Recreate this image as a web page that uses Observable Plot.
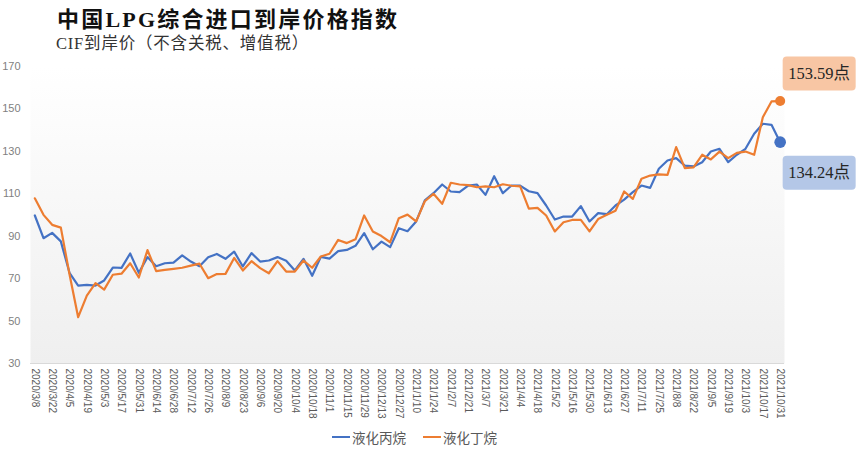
<!DOCTYPE html>
<html>
<head>
<meta charset="utf-8">
<script src="https://cdn.jsdelivr.net/npm/d3@7"></script>
<script src="https://cdn.jsdelivr.net/npm/@observablehq/plot@0.6"></script>
<style>
  html, body { margin: 0; padding: 0; background: #ffffff; }
  #wrap { width: 861px; height: 454px; position: relative; overflow: hidden; }
  #header { position: relative; width: 861px; height: 56px; }
  #title { position: absolute; left: 57px; top: 8px; line-height: 24px; font-size: 22px; font-weight: bold; letter-spacing: 2.2px;
           font-family: "Liberation Serif", "Noto Sans CJK SC", serif; color: #111; white-space: nowrap; }
  #subtitle { position: absolute; left: 56px; top: 34px; line-height: 20px; font-size: 16.5px; letter-spacing: 0.8px;
           font-family: "Liberation Serif", "Noto Sans CJK SC", serif; color: #333; white-space: nowrap; }
  #legend { position: relative; height: 34px; font-family: "Noto Sans CJK SC", sans-serif; font-size: 13.5px; color: #595959; }
  .lg { position: absolute; top: 0; height: 34px; line-height: 34px; display: flex; align-items: center; white-space: nowrap; }
  .sw { display: inline-block; width: 18px; height: 2px; margin-right: 2px; }
</style>
</head>
<body>
<div id="wrap">
  <div id="header">
    <div id="title">中国LPG综合进口到岸价格指数</div>
    <div id="subtitle">CIF到岸价（不含关税、增值税）</div>
  </div>
  <div id="chart"></div>
  <div id="legend"></div>
</div>
<script>
// ---- data ----
const dates = [
  "2020/3/8","2020/3/15","2020/3/22","2020/3/29","2020/4/5","2020/4/12","2020/4/19","2020/4/26",
  "2020/5/3","2020/5/10","2020/5/17","2020/5/24","2020/5/31","2020/6/7","2020/6/14","2020/6/21",
  "2020/6/28","2020/7/5","2020/7/12","2020/7/19","2020/7/26","2020/8/2","2020/8/9","2020/8/16",
  "2020/8/23","2020/8/30","2020/9/6","2020/9/13","2020/9/20","2020/9/27","2020/10/4","2020/10/11",
  "2020/10/18","2020/10/25","2020/11/1","2020/11/8","2020/11/15","2020/11/22","2020/11/29","2020/12/6",
  "2020/12/13","2020/12/20","2020/12/27","2021/1/3","2021/1/10","2021/1/17","2021/1/24","2021/1/31",
  "2021/2/7","2021/2/14","2021/2/21","2021/2/28","2021/3/7","2021/3/14","2021/3/21","2021/3/28",
  "2021/4/4","2021/4/11","2021/4/18","2021/4/25","2021/5/2","2021/5/9","2021/5/16","2021/5/23",
  "2021/5/30","2021/6/6","2021/6/13","2021/6/20","2021/6/27","2021/7/4","2021/7/11","2021/7/18",
  "2021/7/25","2021/8/1","2021/8/8","2021/8/15","2021/8/22","2021/8/29","2021/9/5","2021/9/12",
  "2021/9/19","2021/9/26","2021/10/3","2021/10/10","2021/10/17","2021/10/24","2021/10/31"
];
// 液化丙烷 (propane)
const propane = [
  99.7, 89.0, 91.5, 87.5, 72.7, 66.7, 67.0, 66.7, 69.1, 75.2,
  75.0, 81.8, 72.7, 80.1, 75.8, 77.2, 77.5, 80.9, 78.0, 75.8,
  80.0, 81.6, 79.3, 82.7, 75.7, 82.0, 78.0, 78.5, 80.1, 78.4,
  73.8, 79.3, 71.3, 80.2, 79.4, 82.9, 83.5, 85.4, 91.4, 83.8,
  87.4, 84.8, 93.7, 92.3, 96.9, 106.8, 110.2, 114.3, 111.0, 110.7,
  113.8, 114.3, 109.4, 118.2, 110.2, 113.8, 113.8, 111.1, 110.2, 104.4,
  97.8, 99.2, 99.2, 104.1, 96.9, 100.8, 100.3, 104.4, 107.2, 110.7,
  113.8, 112.7, 121.7, 125.6, 126.7, 123.2, 122.8, 124.8, 129.8, 131.1,
  124.8, 128.3, 131.1, 138.2, 142.9, 142.4, 134.24
];
// 液化丁烷 (butane)
const butane = [
  107.8, 100.0, 95.3, 94.0, 72.0, 51.8, 62.0, 67.8, 64.8, 71.8,
  72.3, 77.2, 70.5, 83.4, 73.5, 74.1, 74.6, 75.1, 76.1, 77.0,
  70.2, 72.1, 72.2, 79.7, 73.8, 78.2, 74.9, 72.5, 78.2, 73.3,
  73.3, 78.5, 75.1, 80.4, 81.7, 88.2, 86.7, 88.5, 99.7, 92.2,
  90.0, 87.1, 98.4, 100.1, 96.9, 106.4, 109.9, 105.2, 115.1, 114.3,
  114.0, 113.0, 113.4, 113.0, 114.4, 113.7, 113.4, 102.9, 103.3, 99.7,
  92.2, 96.5, 97.6, 97.6, 92.2, 98.0, 100.0, 101.9, 111.0, 107.5,
  117.0, 118.5, 119.1, 118.8, 131.9, 122.0, 122.4, 128.3, 126.1, 129.8,
  126.7, 129.2, 129.8, 128.3, 146.0, 153.4, 153.59
];
const tickLabels = [
  "2020/3/8","2020/3/22","2020/4/5","2020/4/19","2020/5/3","2020/5/17","2020/5/31","2020/6/14",
  "2020/6/28","2020/7/12","2020/7/26","2020/8/9","2020/8/23","2020/9/6","2020/9/20","2020/10/4",
  "2020/10/18","2020/11/1","2020/11/15","2020/11/29","2020/12/13","2020/12/27","2021/1/10","2021/1/24",
  "2021/2/7","2021/2/21","2021/3/7","2021/3/21","2021/4/4","2021/4/18","2021/5/2","2021/5/16",
  "2021/5/30","2021/6/13","2021/6/27","2021/7/11","2021/7/25","2021/8/8","2021/8/22","2021/9/5",
  "2021/9/19","2021/10/3","2021/10/17","2021/10/31"
];
const yTicks = [30, 50, 70, 90, 110, 130, 150, 170];
const seriesNames = ["液化丙烷", "液化丁烷"];
const seriesColors = ["#4472c4", "#ed7d31"];
const boxColors = ["#b4c7e7", "#f8c6a4"];

// ---- build rows ----
const propRows = dates.map((d, i) => ({date: d, value: propane[i]}));
const butRows = dates.map((d, i) => ({date: d, value: butane[i]}));
const last = dates.length - 1;
const endProp = [propRows[last]];
const endBut = [butRows[last]];
const fmt = d => d3.format(".2f")(d.value) + "点";

const boxSymbol = {
  draw(ctx) {
    const w = 73, h = 34, r = 4;
    const x0 = -w / 2, y0 = -h / 2, x1 = w / 2, y1 = h / 2;
    ctx.moveTo(x0 + r, y0);
    ctx.lineTo(x1 - r, y0);
    ctx.arcTo(x1, y0, x1, y0 + r, r);
    ctx.lineTo(x1, y1 - r);
    ctx.arcTo(x1, y1, x1 - r, y1, r);
    ctx.lineTo(x0 + r, y1);
    ctx.arcTo(x0, y1, x0, y1 - r, r);
    ctx.lineTo(x0, y0 + r);
    ctx.arcTo(x0, y0, x0 + r, y0, r);
    ctx.closePath();
  }
};

const labelFont = "Liberation Serif, Noto Sans CJK SC, serif";

const chart = Plot.plot({
  width: 861,
  height: 364,
  marginTop: 9.7,
  marginBottom: 57,
  marginLeft: 30,
  marginRight: 77,
  style: {fontFamily: "Liberation Sans, Arial, sans-serif", background: "transparent", overflow: "visible"},
  x: {type: "point", domain: dates, padding: 0.5},
  y: {domain: [30, 170]},
  marks: [
    Plot.frame({fill: "url(#bgGrad)", stroke: "none"}),
    Plot.ruleY([30], {stroke: "#d9d9d9", strokeWidth: 1}),
    Plot.axisY({ticks: yTicks, tickSize: 0, tickPadding: 10, fontSize: 11, color: "#7f7f7f", label: null}),
    Plot.axisX({ticks: tickLabels, tickRotate: 90, tickSize: 0, tickPadding: 5, fontSize: 10, color: "#595959", label: null}),
    Plot.line(propRows, {x: "date", y: "value", stroke: seriesColors[0], strokeWidth: 2.2}),
    Plot.line(butRows, {x: "date", y: "value", stroke: seriesColors[1], strokeWidth: 2.2}),
    Plot.dot(endBut, {x: "date", y: "value", fill: seriesColors[1], r: 5}),
    Plot.dot(endProp, {x: "date", y: "value", fill: seriesColors[0], r: 5.8}),
    Plot.dot(endBut, {x: "date", y: "value", symbol: boxSymbol, r: 10, fill: boxColors[1], dx: 39, dy: -27.5}),
    Plot.dot(endProp, {x: "date", y: "value", symbol: boxSymbol, r: 10, fill: boxColors[0], dx: 39, dy: 30.5}),
    Plot.text(endBut, {x: "date", y: "value", text: fmt, dx: 39, dy: -27.5, fill: "#262626", fontSize: 16.5, fontFamily: labelFont}),
    Plot.text(endProp, {x: "date", y: "value", text: fmt, dx: 39, dy: 30.5, fill: "#262626", fontSize: 16.5, fontFamily: labelFont})
  ]
});

d3.select(chart).insert("defs", ":first-child").html(
  '<linearGradient id="bgGrad" x1="0" y1="0" x2="0" y2="1">' +
  '<stop offset="0" stop-color="#ffffff"/><stop offset="1" stop-color="#efefef"/></linearGradient>'
);
document.getElementById("chart").appendChild(chart);

// legend
const legend = document.getElementById("legend");
const lefts = [332, 423];
seriesNames.forEach((name, i) => {
  const item = document.createElement("div");
  item.className = "lg";
  item.style.left = lefts[i] + "px";
  const sw = document.createElement("span");
  sw.className = "sw";
  sw.style.background = seriesColors[i];
  const tx = document.createElement("span");
  tx.textContent = name;
  item.appendChild(sw);
  item.appendChild(tx);
  legend.appendChild(item);
});
</script>
</body>
</html>
